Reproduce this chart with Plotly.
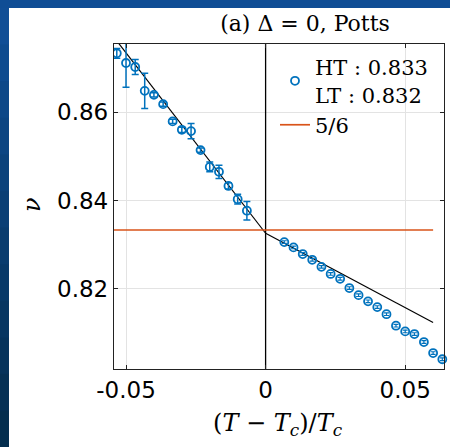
import plotly.graph_objects as go

# ---- data ----
x_low = [-0.0533, -0.0500, -0.0467, -0.0433, -0.0400, -0.0367, -0.0333, -0.0300,
         -0.0267, -0.0233, -0.0200, -0.0167, -0.0133, -0.0100, -0.0067]
nu_low = [0.8733, 0.8711, 0.8702, 0.8648, 0.8639, 0.8618, 0.8579, 0.8560,
          0.8557, 0.8514, 0.8476, 0.8465, 0.8433, 0.8403, 0.8377]
err_low = [0.0011, 0.0055, 0.0017, 0.0040, 0.0005, 0.0005, 0.0005, 0.0006,
           0.0017, 0.0005, 0.0011, 0.0015, 0.0007, 0.0011, 0.0021]

x_high = [0.0067, 0.0100, 0.0133, 0.0167, 0.0200, 0.0233, 0.0267, 0.0300, 0.0333,
          0.0367, 0.0400, 0.0433, 0.0467, 0.0500, 0.0533, 0.0567, 0.0600, 0.0633]
nu_high = [0.8306, 0.8294, 0.8279, 0.8266, 0.8250, 0.8234, 0.8223, 0.8202, 0.8186,
           0.8172, 0.8159, 0.8143, 0.8117, 0.8104, 0.8098, 0.8080, 0.8055, 0.8041]
err_high = [0.0003] * 18

fit_low_x = [-0.0533, 0.0]
fit_low_y = [0.8761, 0.8326]
fit_high_x = [0.0, 0.0600]
fit_high_y = [0.8326, 0.8124]

ref_x = [-0.06, 0.06]
ref_y = [5 / 6, 5 / 6]

xtick_vals = [-0.05, 0, 0.05]
xtick_text = ["-0.05", "0", "0.05"]
ytick_vals = [0.82, 0.84, 0.86]
ytick_text = ["0.82", "0.84", "0.86"]

BLUE = "#0072BD"
ORANGE = "#D95319"
SERIF = "DejaVu Serif"
SANS = "DejaVu Sans"

W, H = 450, 447
L, R, T, B = 114, 6, 44, 78
PW, PH = W - L - R, H - T - B


def px2paper_x(px):
    return (px - L) / PW


def px2paper_y(py):
    return (H - B - py) / PH


fig = go.Figure()

# fit lines
fig.add_trace(go.Scatter(x=fit_low_x, y=fit_low_y, mode="lines",
                         line=dict(color="black", width=1.2), showlegend=False, hoverinfo="skip"))
fig.add_trace(go.Scatter(x=fit_high_x, y=fit_high_y, mode="lines",
                         line=dict(color="black", width=1.2), showlegend=False, hoverinfo="skip"))
# vertical line at Tc
fig.add_trace(go.Scatter(x=[0, 0], y=[0.79, 0.89], mode="lines",
                         line=dict(color="black", width=1.3), showlegend=False, hoverinfo="skip"))

marker = dict(symbol="circle-open", size=8, color=BLUE, line=dict(width=1.8, color=BLUE))

fig.add_trace(go.Scatter(
    x=x_low, y=nu_low, mode="markers", name="HT : 0.833<br>LT : 0.832",
    marker=marker,
    error_y=dict(type="data", array=err_low, color=BLUE, thickness=1.5, width=3.5),
    cliponaxis=True,
))
fig.add_trace(go.Scatter(
    x=x_high, y=nu_high, mode="markers", showlegend=False,
    marker=marker,
    error_y=dict(type="data", array=err_high, color=BLUE, thickness=1.2, width=2.5),
    cliponaxis=False,
))
fig.add_trace(go.Scatter(x=ref_x, y=ref_y, mode="lines", name="5/6",
                         line=dict(color=ORANGE, width=1.7)))

# background decoration: blue frame with white page
shapes = []
shapes.append(dict(type="rect", xref="paper", yref="paper",
                   x0=px2paper_x(9), x1=px2paper_x(W + 5),
                   y0=px2paper_y(H + 5), y1=px2paper_y(8),
                   fillcolor="white", line=dict(width=0), layer="below"))
# left strip gradient
steps = 12
c_top = (16, 78, 150)
c_bot = (4, 46, 78)
for i in range(steps):
    f = i / (steps - 1)
    c = tuple(int(c_top[k] + (c_bot[k] - c_top[k]) * f) for k in range(3))
    y0 = 8 + (H - 8) * i / steps
    y1 = 8 + (H - 8) * (i + 1) / steps
    shapes.append(dict(type="rect", xref="paper", yref="paper",
                       x0=px2paper_x(-5), x1=px2paper_x(9),
                       y0=px2paper_y(y1 + 0.5), y1=px2paper_y(y0),
                       fillcolor="rgb(%d,%d,%d)" % c, line=dict(width=0), layer="below"))

fig.update_layout(
    width=W, height=H,
    margin=dict(l=L, r=R, t=T, b=B, pad=0),
    paper_bgcolor="#0f4d95",
    plot_bgcolor="white",
    shapes=shapes,
    title=dict(text="(a) Δ = 0, Potts", x=305 / W, xref="container", xanchor="center",
               y=1 - 23 / H, yref="container", yanchor="middle",
               font=dict(family=SERIF, size=22, color="black")),
    showlegend=True,
    legend=dict(x=px2paper_x(275), y=px2paper_y(47), xanchor="left", yanchor="top",
                bgcolor="rgba(255,255,255,0)", borderwidth=0,
                font=dict(family=SERIF, size=21, color="black"), tracegroupgap=0),
    xaxis=dict(range=[-0.0543, 0.0639], tickvals=xtick_vals, ticktext=xtick_text,
               showgrid=True, gridcolor="#e3e3e3", gridwidth=1, zeroline=False,
               showline=True, linecolor="#222222", linewidth=1.3, mirror="ticks",
               ticks="inside", ticklen=4, tickcolor="#222222",
               tickfont=dict(family=SANS, size=23, color="black")),
    yaxis=dict(range=[0.8019, 0.8754], tickvals=ytick_vals, ticktext=ytick_text,
               showgrid=True, gridcolor="#e3e3e3", gridwidth=1, zeroline=False,
               showline=True, linecolor="#222222", linewidth=1.3, mirror="ticks",
               ticks="inside", ticklen=4, tickcolor="#222222",
               tickfont=dict(family=SANS, size=23, color="black")),
    annotations=[
        dict(text="(<i>T</i> − <i>T</i><sub><i>c</i></sub>)/<i>T</i><sub><i>c</i></sub>",
             xref="paper", yref="paper", x=px2paper_x(278), y=px2paper_y(424),
             xanchor="center", yanchor="middle", showarrow=False,
             font=dict(family=SERIF, size=24, color="black")),
        dict(text="<i>ν</i>", xref="paper", yref="paper",
             x=px2paper_x(32), y=px2paper_y(205), xanchor="center", yanchor="middle",
             textangle=-90, showarrow=False,
             font=dict(family=SERIF, size=24, color="black")),
    ],
)

fig.write_html("out.html")
